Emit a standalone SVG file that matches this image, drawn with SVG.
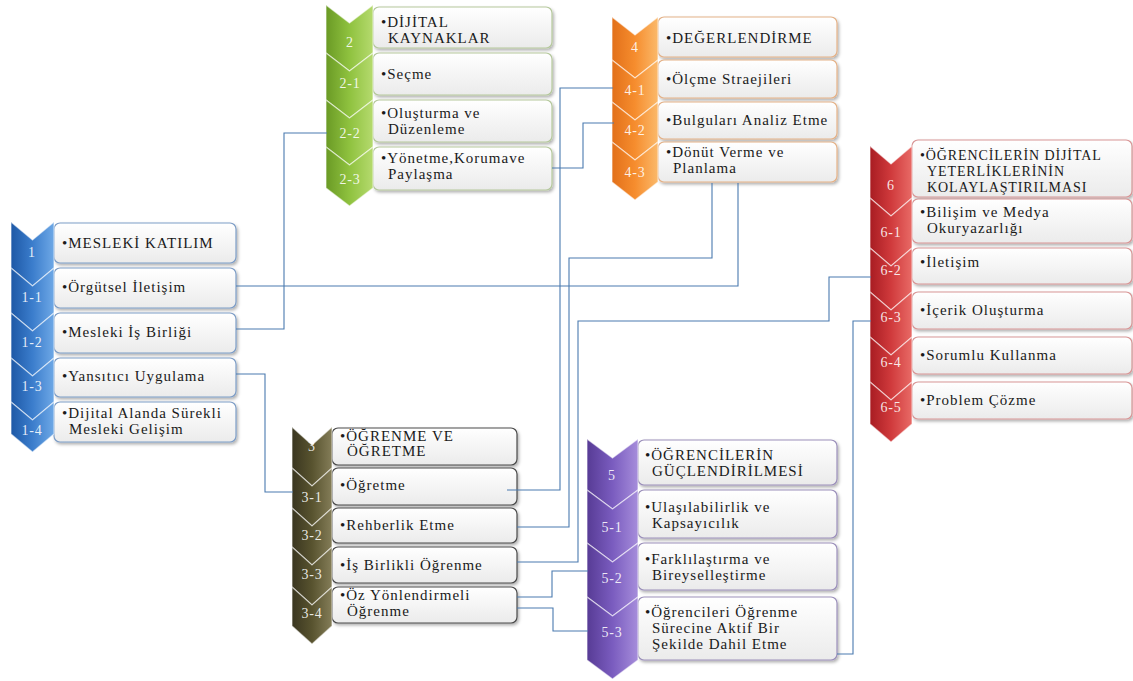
<svg xmlns="http://www.w3.org/2000/svg" width="1133" height="681" viewBox="0 0 1133 681">
<defs>
<linearGradient id="boxg" x1="0" y1="0" x2="0" y2="1"><stop offset="0" stop-color="#ffffff"/><stop offset="1" stop-color="#ebebeb"/></linearGradient>
<linearGradient id="gB" x1="0" y1="0" x2="1" y2="0"><stop offset="0" stop-color="#1d58a6"/><stop offset="0.5" stop-color="#3b7dcc"/><stop offset="1" stop-color="#6ea8e6"/></linearGradient>
<linearGradient id="gG" x1="0" y1="0" x2="1" y2="0"><stop offset="0" stop-color="#6a9a25"/><stop offset="0.5" stop-color="#8fc23f"/><stop offset="1" stop-color="#b5da6e"/></linearGradient>
<linearGradient id="gO" x1="0" y1="0" x2="1" y2="0"><stop offset="0" stop-color="#e2701a"/><stop offset="0.5" stop-color="#f68d2e"/><stop offset="1" stop-color="#fbb96a"/></linearGradient>
<linearGradient id="gR" x1="0" y1="0" x2="1" y2="0"><stop offset="0" stop-color="#a81c22"/><stop offset="0.5" stop-color="#d03a3c"/><stop offset="1" stop-color="#e86a66"/></linearGradient>
<linearGradient id="gK" x1="0" y1="0" x2="1" y2="0"><stop offset="0" stop-color="#3a3620"/><stop offset="0.5" stop-color="#58532f"/><stop offset="1" stop-color="#847d58"/></linearGradient>
<linearGradient id="gP" x1="0" y1="0" x2="1" y2="0"><stop offset="0" stop-color="#573b95"/><stop offset="0.5" stop-color="#7a5cbf"/><stop offset="1" stop-color="#a68ddb"/></linearGradient>
<filter id="sh" x="-5%" y="-10%" width="115%" height="135%"><feDropShadow dx="1.5" dy="2" stdDeviation="1.5" flood-color="#000" flood-opacity="0.3"/></filter>
<style>
.box{fill:url(#boxg);filter:url(#sh);stroke-width:1.2}
.b1{stroke:#7d9dc6}.b2{stroke:#b5c89c}.b4{stroke:#e4b187}.b6{stroke:#d89696}.b3{stroke:#4a4a4a}.b5{stroke:#9b8fba}
.chev{stroke:#ffffff;stroke-opacity:0.55;stroke-width:1.2}
.t{font-family:"Liberation Serif",serif;font-size:15px;fill:#1a1a1a;letter-spacing:1px}
.t14{font-size:14px;letter-spacing:0.9px}
.lb{font-family:"Liberation Serif",serif;font-size:14px;fill:#ffffff;fill-opacity:0.88;text-anchor:middle;letter-spacing:0.8px}
.cn{fill:none;stroke:#4a7ab0;stroke-width:1.1}
</style>
</defs>
<rect width="1133" height="681" fill="#ffffff"/>

<!-- Group 1 -->
<g id="node-1">
<rect class="box b1" x="54" y="223" width="182" height="40" rx="6"/>
<path class="chev" fill="url(#gB)" d="M11,222 L32.5,240 L54,222 L54,268 L32.5,286 L11,268 Z"/>
<text class="lb" x="32" y="257">1</text>
<text class="t" x="62" y="248">•MESLEKİ KATILIM</text>
</g>
<g id="node-1-1">
<rect class="box b1" x="54" y="268" width="182" height="40" rx="6"/>
<path class="chev" fill="url(#gB)" d="M11,268 L32.5,286 L54,268 L54,313 L32.5,331 L11,313 Z"/>
<text class="lb" x="32" y="302">1-1</text>
<text class="t" x="62" y="292">•Örgütsel İletişim</text>
</g>
<g id="node-1-2">
<rect class="box b1" x="54" y="313" width="182" height="40" rx="6"/>
<path class="chev" fill="url(#gB)" d="M11,313 L32.5,331 L54,313 L54,358 L32.5,376 L11,358 Z"/>
<text class="lb" x="32" y="347">1-2</text>
<text class="t" x="62" y="337">•Mesleki İş Birliği</text>
</g>
<g id="node-1-3">
<rect class="box b1" x="54" y="358" width="182" height="39" rx="6"/>
<path class="chev" fill="url(#gB)" d="M11,358 L32.5,376 L54,358 L54,402 L32.5,420 L11,402 Z"/>
<text class="lb" x="32" y="391">1-3</text>
<text class="t" x="62" y="381">•Yansıtıcı Uygulama</text>
</g>
<g id="node-1-4">
<rect class="box b1" x="54" y="402" width="182" height="40" rx="6"/>
<path class="chev" fill="url(#gB)" d="M11,402 L32.5,420 L54,402 L54,434 L32.5,452 L11,434 Z"/>
<text class="lb" x="32" y="435">1-4</text>
<text class="t" x="62" y="418">•Dijital Alanda Sürekli</text>
<text class="t" x="69" y="434">Mesleki Gelişim</text>
</g>

<!-- Group 2 -->
<g id="node-2">
<rect class="box b2" x="373" y="7" width="179" height="41" rx="6"/>
<path class="chev" fill="url(#gG)" d="M326,5 L349.5,23 L373,5 L373,53 L349.5,71 L326,53 Z"/>
<text class="lb" x="350" y="47">2</text>
<text class="t" x="381" y="27">•DİJİTAL</text>
<text class="t" x="388" y="43">KAYNAKLAR</text>
</g>
<g id="node-2-1">
<rect class="box b2" x="373" y="53" width="179" height="42" rx="6"/>
<path class="chev" fill="url(#gG)" d="M326,53 L349.5,71 L373,53 L373,100 L349.5,118 L326,100 Z"/>
<text class="lb" x="350" y="88">2-1</text>
<text class="t" x="381" y="79">•Seçme</text>
</g>
<g id="node-2-2">
<rect class="box b2" x="373" y="100" width="179" height="42" rx="6"/>
<path class="chev" fill="url(#gG)" d="M326,100 L349.5,118 L373,100 L373,147 L349.5,165 L326,147 Z"/>
<text class="lb" x="350" y="138">2-2</text>
<text class="t" x="381" y="118">•Oluşturma ve</text>
<text class="t" x="388" y="134">Düzenleme</text>
</g>
<g id="node-2-3">
<rect class="box b2" x="373" y="147" width="179" height="43" rx="6"/>
<path class="chev" fill="url(#gG)" d="M326,147 L349.5,165 L373,147 L373,188 L349.5,206 L326,188 Z"/>
<text class="lb" x="350" y="184">2-3</text>
<text class="t" x="381" y="163">•Yönetme,Korumave</text>
<text class="t" x="388" y="179">Paylaşma</text>
</g>

<!-- Group 4 -->
<g id="node-4">
<rect class="box b4" x="658" y="17" width="179" height="40" rx="6"/>
<path class="chev" fill="url(#gO)" d="M612,17 L635,35 L658,17 L658,60 L635,78 L612,60 Z"/>
<text class="lb" x="635" y="52">4</text>
<text class="t" x="666" y="43">•DEĞERLENDİRME</text>
</g>
<g id="node-4-1">
<rect class="box b4" x="658" y="60" width="179" height="38" rx="6"/>
<path class="chev" fill="url(#gO)" d="M612,60 L635,78 L658,60 L658,102 L635,120 L612,102 Z"/>
<text class="lb" x="635" y="95">4-1</text>
<text class="t" x="666" y="84">•Ölçme Straejileri</text>
</g>
<g id="node-4-2">
<rect class="box b4" x="658" y="102" width="179" height="37" rx="6"/>
<path class="chev" fill="url(#gO)" d="M612,102 L635,120 L658,102 L658,142 L635,160 L612,142 Z"/>
<text class="lb" x="635" y="135">4-2</text>
<text class="t" x="666" y="125">•Bulguları Analiz Etme</text>
</g>
<g id="node-4-3">
<rect class="box b4" x="658" y="142" width="179" height="40" rx="6"/>
<path class="chev" fill="url(#gO)" d="M612,142 L635,160 L658,142 L658,182 L635,200 L612,182 Z"/>
<text class="lb" x="635" y="177">4-3</text>
<text class="t" x="666" y="157">•Dönüt Verme ve</text>
<text class="t" x="673" y="173">Planlama</text>
</g>

<!-- Group 6 -->
<g id="node-6">
<rect class="box b6" x="912" y="140" width="220" height="57" rx="6"/>
<path class="chev" fill="url(#gR)" d="M870,146 L891,164 L912,146 L912,198 L891,216 L870,198 Z"/>
<text class="lb" x="891" y="190">6</text>
<text class="t t14" x="920" y="160">•ÖĞRENCİLERİN DİJİTAL</text>
<text class="t t14" x="927" y="176">YETERLİKLERİNİN</text>
<text class="t t14" x="927" y="192">KOLAYLAŞTIRILMASI</text>
</g>
<g id="node-6-1">
<rect class="box b6" x="912" y="199" width="220" height="44" rx="6"/>
<path class="chev" fill="url(#gR)" d="M870,198 L891,216 L912,198 L912,248 L891,266 L870,248 Z"/>
<text class="lb" x="891" y="237">6-1</text>
<text class="t" x="920" y="217">•Bilişim ve Medya</text>
<text class="t" x="927" y="233">Okuryazarlığı</text>
</g>
<g id="node-6-2">
<rect class="box b6" x="912" y="248" width="220" height="36" rx="6"/>
<path class="chev" fill="url(#gR)" d="M870,248 L891,266 L912,248 L912,292 L891,310 L870,292 Z"/>
<text class="lb" x="891" y="275">6-2</text>
<text class="t" x="920" y="267">•İletişim</text>
</g>
<g id="node-6-3">
<rect class="box b6" x="912" y="292" width="220" height="37" rx="6"/>
<path class="chev" fill="url(#gR)" d="M870,292 L891,310 L912,292 L912,337 L891,355 L870,337 Z"/>
<text class="lb" x="891" y="322">6-3</text>
<text class="t" x="920" y="315">•İçerik Oluşturma</text>
</g>
<g id="node-6-4">
<rect class="box b6" x="912" y="337" width="220" height="37" rx="6"/>
<path class="chev" fill="url(#gR)" d="M870,337 L891,355 L912,337 L912,382 L891,400 L870,382 Z"/>
<text class="lb" x="891" y="367">6-4</text>
<text class="t" x="920" y="360">•Sorumlu Kullanma</text>
</g>
<g id="node-6-5">
<rect class="box b6" x="912" y="382" width="220" height="37" rx="6"/>
<path class="chev" fill="url(#gR)" d="M870,382 L891,400 L912,382 L912,424 L891,442 L870,424 Z"/>
<text class="lb" x="891" y="412">6-5</text>
<text class="t" x="920" y="405">•Problem Çözme</text>
</g>

<!-- Group 3 -->
<g id="node-3">
<rect class="box b3" x="332" y="428" width="185" height="37" rx="6"/>
<path class="chev" fill="url(#gK)" d="M292,427 L312,445 L332,427 L332,468 L312,486 L292,468 Z"/>
<text class="lb" x="312" y="451">3</text>
<text class="t" x="340" y="441">•ÖĞRENME VE</text>
<text class="t" x="347" y="456">ÖĞRETME</text>
</g>
<g id="node-3-1">
<rect class="box b3" x="332" y="468" width="185" height="37" rx="6"/>
<path class="chev" fill="url(#gK)" d="M292,468 L312,486 L332,468 L332,508 L312,526 L292,508 Z"/>
<text class="lb" x="312" y="502">3-1</text>
<text class="t" x="340" y="490">•Öğretme</text>
</g>
<g id="node-3-2">
<rect class="box b3" x="332" y="508" width="185" height="35" rx="6"/>
<path class="chev" fill="url(#gK)" d="M292,508 L312,526 L332,508 L332,547 L312,565 L292,547 Z"/>
<text class="lb" x="312" y="540">3-2</text>
<text class="t" x="340" y="530">•Rehberlik Etme</text>
</g>
<g id="node-3-3">
<rect class="box b3" x="332" y="547" width="185" height="36" rx="6"/>
<path class="chev" fill="url(#gK)" d="M292,547 L312,565 L332,547 L332,587 L312,605 L292,587 Z"/>
<text class="lb" x="312" y="579">3-3</text>
<text class="t" x="340" y="570">•İş Birlikli Öğrenme</text>
</g>
<g id="node-3-4">
<rect class="box b3" x="332" y="587" width="185" height="36" rx="6"/>
<path class="chev" fill="url(#gK)" d="M292,587 L312,605 L332,587 L332,626 L312,644 L292,626 Z"/>
<text class="lb" x="312" y="618">3-4</text>
<text class="t" x="340" y="600">•Öz Yönlendirmeli</text>
<text class="t" x="347" y="616">Öğrenme</text>
</g>

<!-- Group 5 -->
<g id="node-5">
<rect class="box b5" x="638" y="440" width="199" height="45" rx="6"/>
<path class="chev" fill="url(#gP)" d="M587,439 L612.5,458 L638,439 L638,490 L612.5,509 L587,490 Z"/>
<text class="lb" x="612" y="480">5</text>
<text class="t" x="645" y="460">•ÖĞRENCİLERİN</text>
<text class="t" x="652" y="476">GÜÇLENDİRİLMESİ</text>
</g>
<g id="node-5-1">
<rect class="box b5" x="638" y="490" width="199" height="48" rx="6"/>
<path class="chev" fill="url(#gP)" d="M587,490 L612.5,509 L638,490 L638,543 L612.5,562 L587,543 Z"/>
<text class="lb" x="612" y="532">5-1</text>
<text class="t" x="645" y="512">•Ulaşılabilirlik ve</text>
<text class="t" x="652" y="528">Kapsayıcılık</text>
</g>
<g id="node-5-2">
<rect class="box b5" x="638" y="543" width="199" height="47" rx="6"/>
<path class="chev" fill="url(#gP)" d="M587,543 L612.5,562 L638,543 L638,597 L612.5,616 L587,597 Z"/>
<text class="lb" x="612" y="583">5-2</text>
<text class="t" x="645" y="564">•Farklılaştırma ve</text>
<text class="t" x="652" y="580">Bireyselleştirme</text>
</g>
<g id="node-5-3">
<rect class="box b5" x="638" y="597" width="199" height="63" rx="6"/>
<path class="chev" fill="url(#gP)" d="M587,597 L612.5,616 L638,597 L638,660 L612.5,679 L587,660 Z"/>
<text class="lb" x="612" y="637">5-3</text>
<text class="t" x="645" y="617">•Öğrencileri Öğrenme</text>
<text class="t" x="652" y="633">Sürecine Aktif Bir</text>
<text class="t" x="652" y="649">Şekilde Dahil Etme</text>
</g>

<!-- Connectors -->
<g id="connectors">
<polyline class="cn" points="236,329 284,329 284,133 327,133"/>
<polyline class="cn" points="236,286 738,286 738,183"/>
<polyline class="cn" points="517,527 569,527 569,258 712,258 712,183"/>
<polyline class="cn" points="507,490 560,490 560,88 613,88"/>
<polyline class="cn" points="552,168 583,168 583,123 614,123"/>
<polyline class="cn" points="517,562 578,562 578,321 829,321 829,277 871,277"/>
<polyline class="cn" points="837,654 853,654 853,321 871,321"/>
<polyline class="cn" points="236,374 265,374 265,492 293,492"/>
<polyline class="cn" points="517,597 552,597 552,571 588,571"/>
<polyline class="cn" points="517,608 553,608 553,631 588,631"/>
</g>
</svg>
